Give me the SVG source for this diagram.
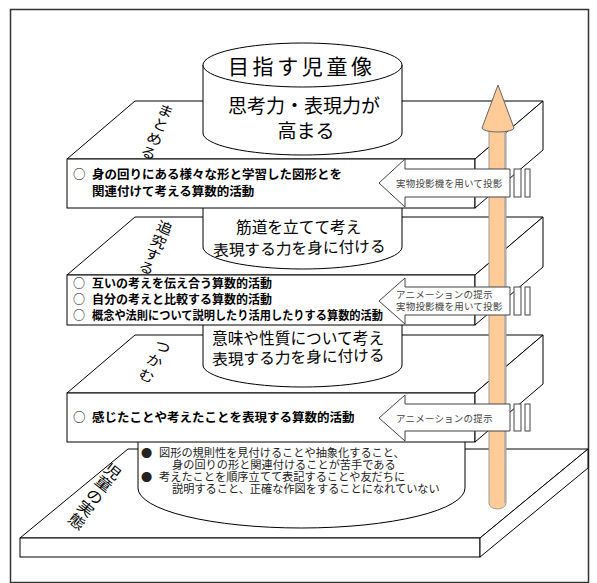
<svg xmlns="http://www.w3.org/2000/svg" width="597" height="583" viewBox="0 0 597 583">
<style>
.ln{fill:#fff;stroke:#000;stroke-width:1}
.jp{font-family:"Noto Sans CJK JP","Noto Sans CJK SC",sans-serif}
.big{font-size:19px;fill:#000}
.mid{font-size:15.7px;fill:#000}
.bold{font-size:12.5px;font-weight:700;fill:#000}
.circ{font-size:12.5px;fill:#000}
.lab{font-size:16px;fill:#000;text-anchor:middle;dominant-baseline:central}
.co{fill:#fff;stroke:#444;stroke-width:1}
.cot{font-size:9.5px;fill:#444;letter-spacing:0.2px}
.sm{font-size:11.2px;fill:#222}
</style>
<rect x="0" y="0" width="597" height="583" fill="#fff"/>
<rect x="10.5" y="9.5" width="578" height="573" fill="none" stroke="#333" stroke-width="1.5"/>

<!-- slab 4: 児童の実態 -->
<g id="slab4">
<polygon class="ln" points="128,449 588,449 480,538 20,538"/>
<rect class="ln" x="20" y="538" width="460" height="19"/>
<polygon class="ln" points="480,538 588,449 588,468 480,557"/>
<g class="jp lab" style="font-size:17px">
<text transform="translate(113,471) rotate(38) scale(1,0.85)">児</text>
<text transform="translate(104,483) rotate(38) scale(1,0.85)">童</text>
<text transform="translate(95,496) rotate(38) scale(1,0.85)">の</text>
<text transform="translate(86,508) rotate(38) scale(1,0.85)">実</text>
<text transform="translate(77,521) rotate(38) scale(1,0.85)">態</text>
</g>
</g>
<g id="cyl4">
<path class="ln" d="M138,436 V488 A163.5,40 0 0 0 465,488 V436 Z"/>
<g class="jp sm">
<text x="141" y="457">●</text>
<text x="159" y="457">図形の規則性を見付けることや抽象化すること、</text>
<text x="172" y="469">身の回りの形と関連付けることが苦手である</text>
<text x="141" y="481">●</text>
<text x="159" y="481">考えたことを順序立てて表記することや友だちに</text>
<text x="172" y="493">説明すること、正確な作図をすることになれていない</text>
</g>
</g>

<!-- slab 3: つかむ -->
<g id="slab3">
<polygon class="ln" points="135,335 543,335 475,393 67,393"/>
<rect class="ln" x="67" y="393" width="408" height="49"/>
<polygon class="ln" points="475,393 543,335 543,384 475,442"/>
<g class="jp lab">
<text transform="translate(163,346) rotate(25) scale(1,0.85)">つ</text>
<text transform="translate(155,360) rotate(25) scale(1,0.85)">か</text>
<text transform="translate(147,375) rotate(25) scale(1,0.85)">む</text>
</g>
<text class="jp circ" x="73" y="422">○</text>
<text class="jp bold" x="92" y="422">感じたことや考えたことを表現する算数的活動</text>
</g>
<g id="cyl3">
<path class="ln" d="M203,318 V365 A99.5,22 0 0 0 402,365 V318 Z"/>
<text class="jp mid" x="212" y="344">意味や性質について考え</text>
<text class="jp mid" x="212" y="363" transform="rotate(-1.5 300 356)">表現する力を身に付ける</text>
</g>

<!-- slab 2: 追究する -->
<g id="slab2">
<polygon class="ln" points="135,217 543,217 475,275 67,275"/>
<rect class="ln" x="67" y="275" width="408" height="50"/>
<polygon class="ln" points="475,275 543,217 543,267 475,325"/>
<g class="jp lab">
<text transform="translate(165,227) rotate(23) scale(1,0.85)">追</text>
<text transform="translate(159,241) rotate(23) scale(1,0.85)">究</text>
<text transform="translate(153,254) rotate(23) scale(1,0.85)">す</text>
<text transform="translate(147,267) rotate(23) scale(1,0.85)">る</text>
</g>
<g class="jp">
<text class="circ" x="73" y="288" style="font-size:12px">○</text>
<text class="bold" x="92" y="288" style="font-size:12px">互いの考えを伝え合う算数的活動</text>
<text class="circ" x="73" y="304" style="font-size:12px">○</text>
<text class="bold" x="92" y="304" style="font-size:12px">自分の考えと比較する算数的活動</text>
<text class="circ" x="73" y="320" style="font-size:12px">○</text>
<text class="bold" x="92" y="320" style="font-size:12px" textLength="291" lengthAdjust="spacingAndGlyphs">概念や法則について説明したり活用したりする算数的活動</text>
</g>
</g>
<g id="cyl2">
<path class="ln" d="M203,200 V247 A99.5,22 0 0 0 402,247 V200 Z"/>
<text class="jp mid" x="236" y="233">筋道を立てて考え</text>
<text class="jp mid" x="213" y="254" transform="rotate(-1.5 300 247)">表現する力を身に付ける</text>
</g>

<!-- slab 1: まとめる -->
<g id="slab1">
<polygon class="ln" points="135,101 543,101 475,159 67,159"/>
<rect class="ln" x="67" y="159" width="408" height="49"/>
<polygon class="ln" points="475,159 543,101 543,150 475,208"/>
<g class="jp lab">
<text transform="translate(166,110) rotate(22) scale(1,0.85)">ま</text>
<text transform="translate(161,124) rotate(22) scale(1,0.85)">と</text>
<text transform="translate(155,138) rotate(22) scale(1,0.85)">め</text>
<text transform="translate(149,152) rotate(22) scale(1,0.85)">る</text>
</g>
<text class="jp circ" x="73" y="179">○</text>
<text class="jp bold" x="92" y="179">身の回りにある様々な形と学習した図形とを</text>
<text class="jp bold" x="92" y="196">関連付けて考える算数的活動</text>
</g>
<g id="cyl1">
<path class="ln" d="M203,65 V133 A99.5,22 0 0 0 402,133 V65 Z"/>
<ellipse class="ln" cx="302.5" cy="65" rx="99.5" ry="22"/>
<text class="jp" x="228" y="74" style="font-size:21px;letter-spacing:3.6px">目指す児童像</text>
<text class="jp big" x="304" y="113" text-anchor="middle">思考力・表現力が</text>
<text class="jp big" x="306" y="138" text-anchor="middle">高まる</text>
</g>

<!-- big upward arrow -->
<g id="growth-arrow">
<path d="M489,128 V503 A8.5,6 0 0 0 506,503 V128 Z" fill="#FFCC99" stroke="#999" stroke-width="1"/>
<line x1="505" y1="130" x2="505" y2="503" stroke="#aaa" stroke-width="1.5"/>
<path d="M498,85 L514,128 A16,4 0 0 1 482,128 Z" fill="#FFCC99" stroke="#666" stroke-width="1"/>
</g>

<!-- callouts -->
<g id="callout1">
<path class="co" d="M379,183 L405,159 L405,169 L510,169 L510,197 L405,197 L405,207 Z"/>
<rect class="co" x="514" y="169" width="7" height="28"/>
<rect class="co" x="525" y="169" width="5" height="28"/>
<text class="jp cot" x="396" y="187">実物投影機を用いて投影</text>
</g>
<g id="callout2">
<path class="co" d="M379,301 L405,278 L405,287 L510,287 L510,315 L405,315 L405,324 Z"/>
<rect class="co" x="514" y="287" width="7" height="28"/>
<rect class="co" x="525" y="287" width="5" height="28"/>
<text class="jp cot" x="396" y="298">アニメーションの提示</text>
<text class="jp cot" x="396" y="310">実物投影機を用いて投影</text>
</g>
<g id="callout3">
<path class="co" d="M379,418 L405,395 L405,404 L510,404 L510,431 L405,431 L405,441 Z"/>
<rect class="co" x="514" y="404" width="7" height="27"/>
<rect class="co" x="525" y="404" width="5" height="27"/>
<text class="jp cot" x="396" y="422">アニメーションの提示</text>
</g>
</svg>
